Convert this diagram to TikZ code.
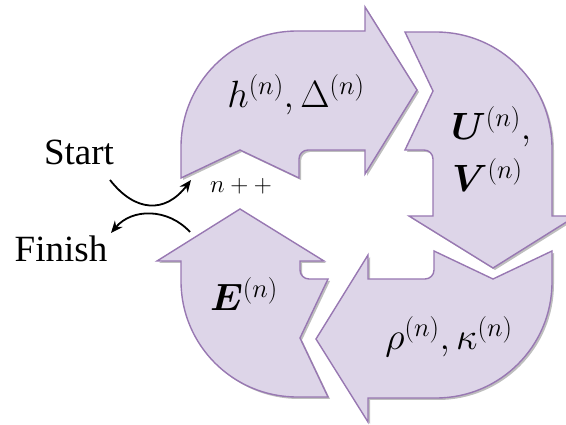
\RequirePackage{fix-cm}
\documentclass[tikz,border=0pt]{standalone}
\usepackage{fontspec}
\setmainfont{Liberation Serif}
\usepackage{bm}
\usetikzlibrary{arrows.meta}
\definecolor{arrfill}{RGB}{221,213,232}
\definecolor{arrline}{RGB}{152,120,178}
\definecolor{shadowc}{RGB}{190,190,190}
% local outline of one curved arrow; #1 = position of the arrow head base
\newcommand{\cyclearrowpath}[1]{(-116,31) -- (-116,0) .. controls (-116,-64.07) and (-64.07,-116) .. (0,-116) -- (#1,-116) -- (#1,-140) -- ({#1+52},-57) -- (#1,27) -- (#1,3) -- (11,3) .. controls (6.03,3) and (2,6.97) .. (2,12) -- (2,31) -- (-57,3) -- cycle}
\begin{document}
\begin{tikzpicture}[x=1pt,y=-1pt,
  shapeline/.style={draw=arrline,fill=arrfill,line width=1.4pt,line join=miter},
  shapeshadow/.style={fill=shadowc},
  lbl/.style={inner sep=0pt,font=\fontsize{37}{42}\selectfont},
  mlbl/.style={inner sep=0pt,font=\fontsize{38}{44}\selectfont},
  smalllbl/.style={inner sep=0pt,font=\fontsize{25}{30}\selectfont},
  conn/.style={line width=1.8pt,-{Stealth[length=12pt,width=10pt]}}]
\useasboundingbox (0,0) rectangle (566,425);
\clip (0,0) rectangle (566,425);
% shadows
\foreach \cx/\cy/\r/\L in {297/147/0/68, 436/148/-90/68, 436/282/180/68, 297/281/90/20}
  \fill[shapeshadow, shift={({\cx+2},{\cy+2})}, rotate=\r] \cyclearrowpath{\L};
% arrows
\foreach \cx/\cy/\r/\L in {297/147/0/68, 436/148/-90/68, 436/282/180/68, 297/281/90/20}
  \path[shapeline, shift={(\cx,\cy)}, rotate=\r] \cyclearrowpath{\L};
% labels
\node[mlbl, anchor=base] (hd) at (296,108) {$h^{(n)}, \Delta^{(n)}$};
\node[mlbl, anchor=base west] (u) at (451,140) {$\bm{U}^{(n)},$};
\node[mlbl, anchor=base west] (v) at (452,192) {$\bm{V}^{(n)}$};
\node[mlbl, anchor=base] (e) at (244,311) {$\bm{E}^{(n)}$};
\node[mlbl, anchor=base] (rk) at (449,350) {$\rho^{(n)}, \kappa^{(n)}$};
\node[smalllbl, anchor=base] (npp) at (241,193) {$n++$};
\node[lbl, anchor=base] (start) at (79,165) {Start};
\node[lbl, anchor=base] (finish) at (61,262) {Finish};
% start / finish connectors
\coordinate (s1) at (110,180);
\coordinate (s2) at (191,180);
\coordinate (f1) at (190,232);
\coordinate (f2) at (111,233);
\draw[conn] (s1) .. controls (135,212) and (165,214) .. (s2);
\draw[conn] (f1) .. controls (168,208) and (132,208) .. (f2);
\end{tikzpicture}
\end{document}
